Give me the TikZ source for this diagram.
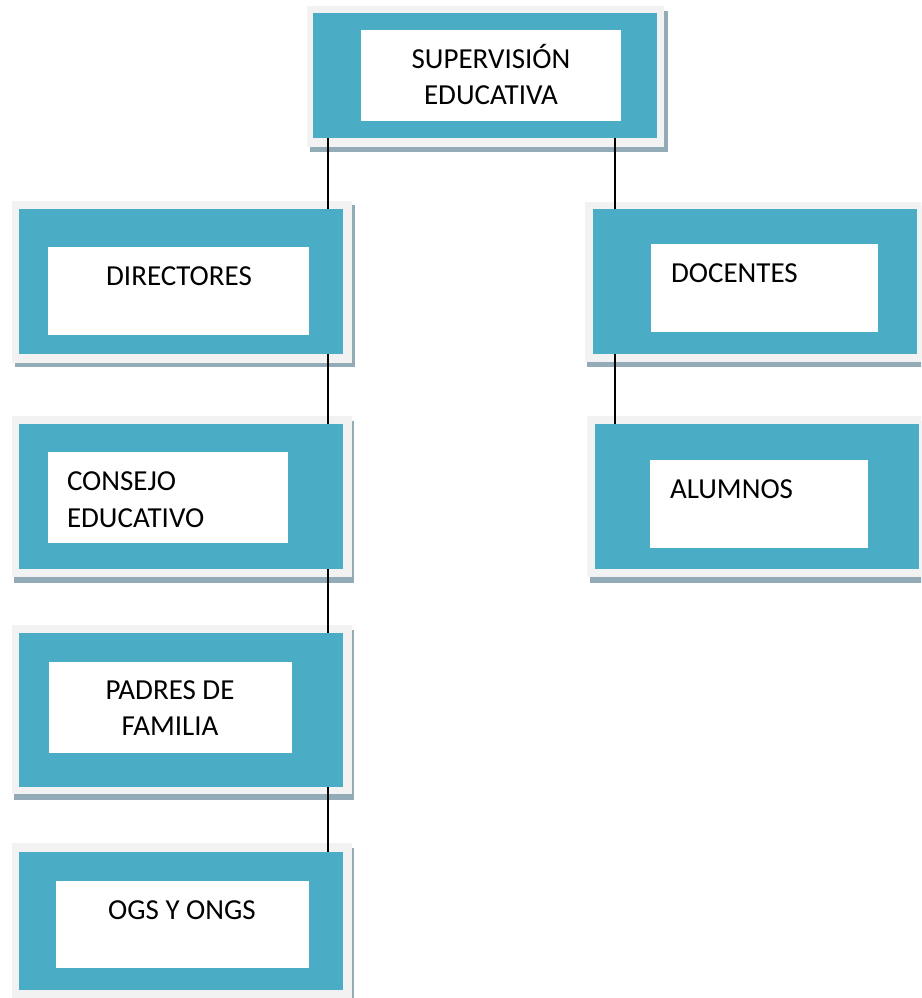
\documentclass[tikz,border=0pt]{standalone}
\usepackage{fontspec}
\setmainfont{Carlito}
\definecolor{aqua}{HTML}{4BACC6}
\definecolor{paleg}{HTML}{F2F2F2}
\definecolor{shade}{HTML}{93ABB7}
\newcommand\myrect[6]{%
  \pgfmathsetmacro\myrcx{(#3+#5)/2}%
  \pgfmathsetmacro\myrcy{(#4+#6)/2}%
  \pgfmathsetmacro\myrw{#5-#3}%
  \pgfmathsetmacro\myrh{#6-#4}%
  \node[#1, minimum width=\myrw pt, minimum height=\myrh pt] (#2) at (\myrcx,\myrcy) {};}
\begin{document}
\begin{tikzpicture}[x=1pt,y=-1pt,
  every node/.style={inner sep=0pt, outer sep=0pt},
  shadowbox/.style={rectangle, fill=shade},
  greybox/.style={rectangle, fill=paleg},
  bluebox/.style={rectangle, fill=aqua},
  whitebox/.style={rectangle, fill=white},
  label/.style={font=\fontsize{29}{36.5}\selectfont, text=black},
  link/.style={draw=black, line width=1.2pt}]
\useasboundingbox (0,0) rectangle (921,998);
\clip (0,0) rectangle (921,998);
% SUPERVISION
\myrect{shadowbox}{supS}{310}{11}{668}{152}
\myrect{greybox}{supG}{307}{6}{664}{147}
\myrect{bluebox}{supB}{313}{13}{657}{138}
\myrect{whitebox}{supW}{361}{30}{621}{121}
\node[label, align=center, anchor=base] (supT) at (491,104.5) {SUPERVISIÓN\\EDUCATIVA};
% DIRECTORES
\myrect{shadowbox}{dirS}{15}{205}{355}{367}
\myrect{greybox}{dirG}{12}{201}{352}{363}
\myrect{bluebox}{dirB}{19}{209}{343}{354}
\myrect{whitebox}{dirW}{48}{247}{309}{335}
\node[label, anchor=base] (dirT) at (179,285) {DIRECTORES};
% CONSEJO
\myrect{shadowbox}{conS}{14}{421}{354}{583}
\myrect{greybox}{conG}{12}{416}{352}{577}
\myrect{bluebox}{conB}{19}{424}{343}{569}
\myrect{whitebox}{conW}{48}{452}{288}{543}
\node[label, align=left, anchor=base west] (conT) at (67,527) {CONSEJO\\EDUCATIVO};
% PADRES
\myrect{shadowbox}{padS}{14}{630}{354}{800}
\myrect{greybox}{padG}{12}{625}{352}{794}
\myrect{bluebox}{padB}{19}{633}{343}{787}
\myrect{whitebox}{padW}{49}{662}{292}{753}
\node[label, align=center, anchor=base] (padT) at (170,735.5) {PADRES DE\\FAMILIA};
% OGS
\myrect{shadowbox}{ogsS}{14}{848}{354}{1004}
\myrect{greybox}{ogsG}{12}{843}{352}{1002}
\myrect{bluebox}{ogsB}{19}{852}{343}{990}
\myrect{whitebox}{ogsW}{56}{881}{309}{968}
\node[label, anchor=base] (ogsT) at (182,919) {OGS Y ONGS};
% DOCENTES
\myrect{shadowbox}{docS}{587}{206}{928}{367}
\myrect{greybox}{docG}{585}{202}{925}{362}
\myrect{bluebox}{docB}{593}{209}{917}{354}
\myrect{whitebox}{docW}{651}{244}{878}{332}
\node[label, anchor=base west] (docT) at (671,282) {DOCENTES};
% ALUMNOS
\myrect{shadowbox}{aluS}{590}{421}{928}{583}
\myrect{greybox}{aluG}{587}{416}{925}{577}
\myrect{bluebox}{aluB}{595}{424}{919}{569}
\myrect{whitebox}{aluW}{650}{460}{868}{548}
\node[label, anchor=base west] (aluT) at (670,498) {ALUMNOS};
% connectors
\coordinate (cl) at (328,0);
\coordinate (cr) at (615,0);
\draw[link] (supB.south -| cl) -- (dirB.north -| cl);
\draw[link] (supB.south -| cr) -- (docB.north -| cr);
\draw[link] (dirB.south -| cl) -- (conB.north -| cl);
\draw[link] (conB.south -| cl) -- (padB.north -| cl);
\draw[link] (padB.south -| cl) -- (ogsB.north -| cl);
\draw[link] (docB.south -| cr) -- (aluB.north -| cr);
\end{tikzpicture}
\end{document}
